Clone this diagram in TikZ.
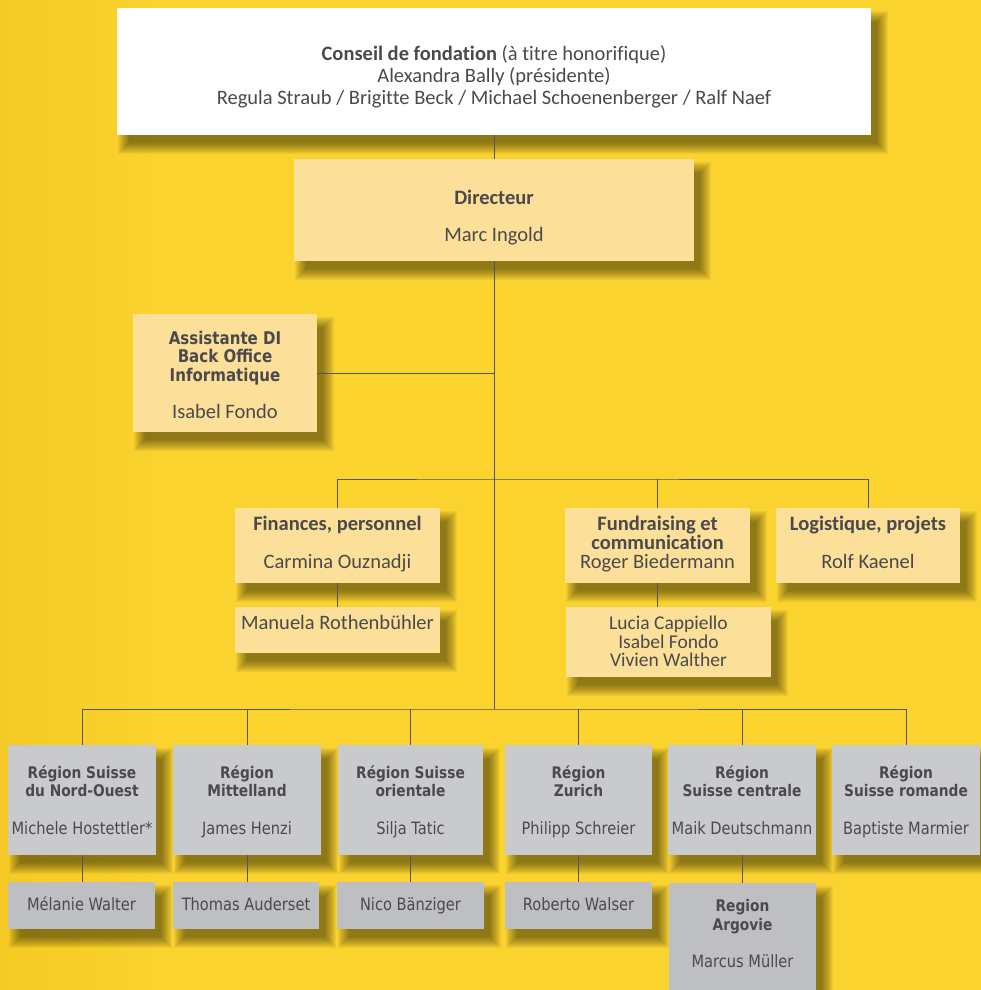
\documentclass[tikz,border=0pt]{standalone}
\usepackage{fontspec}
\setmainfont{Carlito}[Ligatures=NoCommon]
\newfontfamily\regfont[FakeStretch=0.86]{DejaVu Sans}
\pgfdeclarelayer{back}
\pgfdeclarelayer{shadowlayer}
\pgfsetlayers{back,shadowlayer,main}
\definecolor{bg}{RGB}{250,211,46}
\definecolor{bgdark}{RGB}{245,202,36}
\definecolor{ink}{RGB}{74,74,76}
\definecolor{linec}{RGB}{85,85,85}
\definecolor{pale}{RGB}{252,223,153}
\definecolor{grayA}{RGB}{201,202,204}
\definecolor{grayB}{RGB}{190,191,194}
\tikzset{
  box/.style={inner sep=0pt, draw=none},
  whitebox/.style={box, fill=white},
  palebox/.style={box, fill=pale},
  grayboxA/.style={box, fill=grayA},
  grayboxB/.style={box, fill=grayB},
  softshadow/.style={fill=black, opacity=0.045},
  conn/.style={draw=linec, line width=0.9pt},
  txt/.style={inner sep=0pt, text=ink, anchor=mid, yshift=-4pt, font=\fontsize{20.5}{22}\selectfont},
  txtb/.style={txt, font=\fontsize{20.5}{22}\selectfont\bfseries},
  ltxt/.style={txt, font=\fontsize{19.5}{20}\selectfont},
  atxtb/.style={txt, font=\regfont\fontsize{17.5}{19}\selectfont\bfseries},
  rtxt/.style={inner sep=0pt, text=ink, anchor=mid, yshift=-4pt, font=\regfont\fontsize{17}{18}\selectfont},
  rtxtb/.style={rtxt, font=\regfont\fontsize{16}{18}\selectfont\bfseries},
}
\begin{document}
\begin{tikzpicture}[x=1pt,y=-1pt]
\path[use as bounding box, clip] (0,0) rectangle (981,990);
\begin{pgfonlayer}{back}
\fill[bg] (0,0) rectangle (981,990);
\shade[left color=bgdark, right color=bg] (0,0) rectangle (160,990);
\end{pgfonlayer}

% boxes
\node[whitebox, minimum width=754pt, minimum height=127pt] (conseil) at (494,71.5) {};
\node[palebox, minimum width=400pt, minimum height=102pt] (dir) at (494,210) {};
\node[palebox, minimum width=184pt, minimum height=118pt] (assist) at (225,373) {};
\node[palebox, minimum width=205pt, minimum height=75pt] (fin) at (337.5,545.5) {};
\node[palebox, minimum width=205pt, minimum height=46pt] (man) at (337.5,630) {};
\node[palebox, minimum width=185pt, minimum height=75pt] (fund) at (657.5,545.5) {};
\node[palebox, minimum width=205pt, minimum height=70pt] (lucia) at (668.5,642) {};
\node[palebox, minimum width=184pt, minimum height=75pt] (logi) at (868,545.5) {};

\node[grayboxA, minimum width=148pt, minimum height=110pt] (r1) at (82,800) {};
\node[grayboxA, minimum width=148pt, minimum height=110pt] (r2) at (247,800) {};
\node[grayboxA, minimum width=145pt, minimum height=110pt] (r3) at (410.5,800) {};
\node[grayboxA, minimum width=147pt, minimum height=110pt] (r4) at (578.5,800) {};
\node[grayboxA, minimum width=148pt, minimum height=110pt] (r5) at (742,800) {};
\node[grayboxA, minimum width=148pt, minimum height=110pt] (r6) at (906,800) {};

\node[grayboxB, minimum width=147pt, minimum height=47pt] (s1) at (81.5,905.5) {};
\node[grayboxB, minimum width=146pt, minimum height=47pt] (s2) at (246,905.5) {};
\node[grayboxB, minimum width=147pt, minimum height=47pt] (s3) at (410.5,905.5) {};
\node[grayboxB, minimum width=147pt, minimum height=47pt] (s4) at (578.5,905.5) {};
\node[grayboxB, minimum width=147pt, minimum height=130pt] (arg) at (742.5,948) {};

% soft drop shadows
\begin{pgfonlayer}{shadowlayer}
\foreach \n in {conseil,dir,assist,fin,man,fund,lucia,logi,r1,r2,r3,r4,r5,r6,s1,s2,s3,s4,arg}{
  \foreach \k in {-3,...,8}{
    \fill[softshadow] ([shift={(9-\k,11-\k)}]\n.north west) rectangle ([shift={(9+\k,11+\k)}]\n.south east);
  }
}
\end{pgfonlayer}

% connectors
\coordinate (bar1) at (494,479);
\coordinate (bar2) at (494,709);
\draw[conn] (conseil.south) -- (dir.north);
\draw[conn] (dir.south) -- (bar2);
\draw[conn] (assist.east) -- (assist.east -| dir.south);
\draw[conn] (fin.north) |- (bar1) -| (logi.north);
\draw[conn] (bar1 -| fund.north) -- (fund.north);
\draw[conn] (fin.south) -- (man.north);
\draw[conn] (fund.south) -- (fund.south |- lucia.north);
\draw[conn] (r1.north) |- (bar2) -| (r6.north);
\draw[conn] (bar2 -| r2.north) -- (r2.north);
\draw[conn] (bar2 -| r3.north) -- (r3.north);
\draw[conn] (bar2 -| r4.north) -- (r4.north);
\draw[conn] (bar2 -| r5.north) -- (r5.north);
\draw[conn] (r1.south) -- (r1.south |- s1.north);
\draw[conn] (r2.south) -- (r2.south |- s2.north);
\draw[conn] (r3.south) -- (r3.south |- s3.north);
\draw[conn] (r4.south) -- (r4.south |- s4.north);
\draw[conn] (r5.south) -- (r5.south |- arg.north);

% texts
\node[txt] (t1) at (494,54) {\textbf{Conseil de fondation} (à titre honorifique)};
\node[txt] (t2) at (494,76) {Alexandra Bally (présidente)};
\node[txt] (t3) at (494,98) {Regula Straub / Brigitte Beck / Michael Schoenenberger / Ralf Naef};
\node[txtb] (t4) at (494,198) {Directeur};
\node[txt] (t5) at (494,235) {Marc Ingold};
\node[atxtb] (t6) at (225,338) {Assistante DI};
\node[atxtb] (t7) at (225,356.5) {Back Office};
\node[atxtb] (t8) at (225,375) {Informatique};
\node[txt] (t9) at (225,412) {Isabel Fondo};
\node[txtb] (t10) at (337.5,524) {Finances, personnel};
\node[txt] (t11) at (337.5,562) {Carmina Ouznadji};
\node[txt] (t12) at (337.5,623) {Manuela Rothenbühler};
\node[txtb] (t13) at (657.5,524) {Fundraising et};
\node[txtb] (t14) at (657.5,543) {communication};
\node[txt] (t15) at (657.5,562) {Roger Biedermann};
\node[ltxt] (t16) at (668.5,623) {Lucia Cappiello};
\node[ltxt] (t17) at (668.5,642) {Isabel Fondo};
\node[ltxt] (t18) at (668.5,660) {Vivien Walther};
\node[txtb] (t19) at (868,524) {Logistique, projets};
\node[txt] (t20) at (868,562) {Rolf Kaenel};

\node[rtxtb] (u1) at (82,772) {Région Suisse};
\node[rtxtb] (u2) at (82,790) {du Nord-Ouest};
\node[rtxt] (u3) at (82,828) {Michele Hostettler*};
\node[rtxtb] (u4) at (247,772) {Région};
\node[rtxtb] (u5) at (247,790) {Mittelland};
\node[rtxt] (u6) at (247,828) {James Henzi};
\node[rtxtb] (u7) at (410.5,772) {Région Suisse};
\node[rtxtb] (u8) at (410.5,790) {orientale};
\node[rtxt] (u9) at (410.5,828) {Silja Tatic};
\node[rtxtb] (u10) at (578.5,772) {Région};
\node[rtxtb] (u11) at (578.5,790) {Zurich};
\node[rtxt] (u12) at (578.5,828) {Philipp Schreier};
\node[rtxtb] (u13) at (742,772) {Région};
\node[rtxtb] (u14) at (742,790) {Suisse centrale};
\node[rtxt] (u15) at (742,828) {Maik Deutschmann};
\node[rtxtb] (u16) at (906,772) {Région};
\node[rtxtb] (u17) at (906,790) {Suisse romande};
\node[rtxt] (u18) at (906,828) {Baptiste Marmier};

\node[rtxt] (v1) at (81.5,904) {Mélanie Walter};
\node[rtxt] (v2) at (246,904) {Thomas Auderset};
\node[rtxt] (v3) at (410.5,904) {Nico Bänziger};
\node[rtxt] (v4) at (578.5,904) {Roberto Walser};
\node[rtxtb] (v5) at (742.5,905) {Region};
\node[rtxtb] (v6) at (742.5,924) {Argovie};
\node[rtxt] (v7) at (742.5,961) {Marcus Müller};
\end{tikzpicture}
\end{document}
